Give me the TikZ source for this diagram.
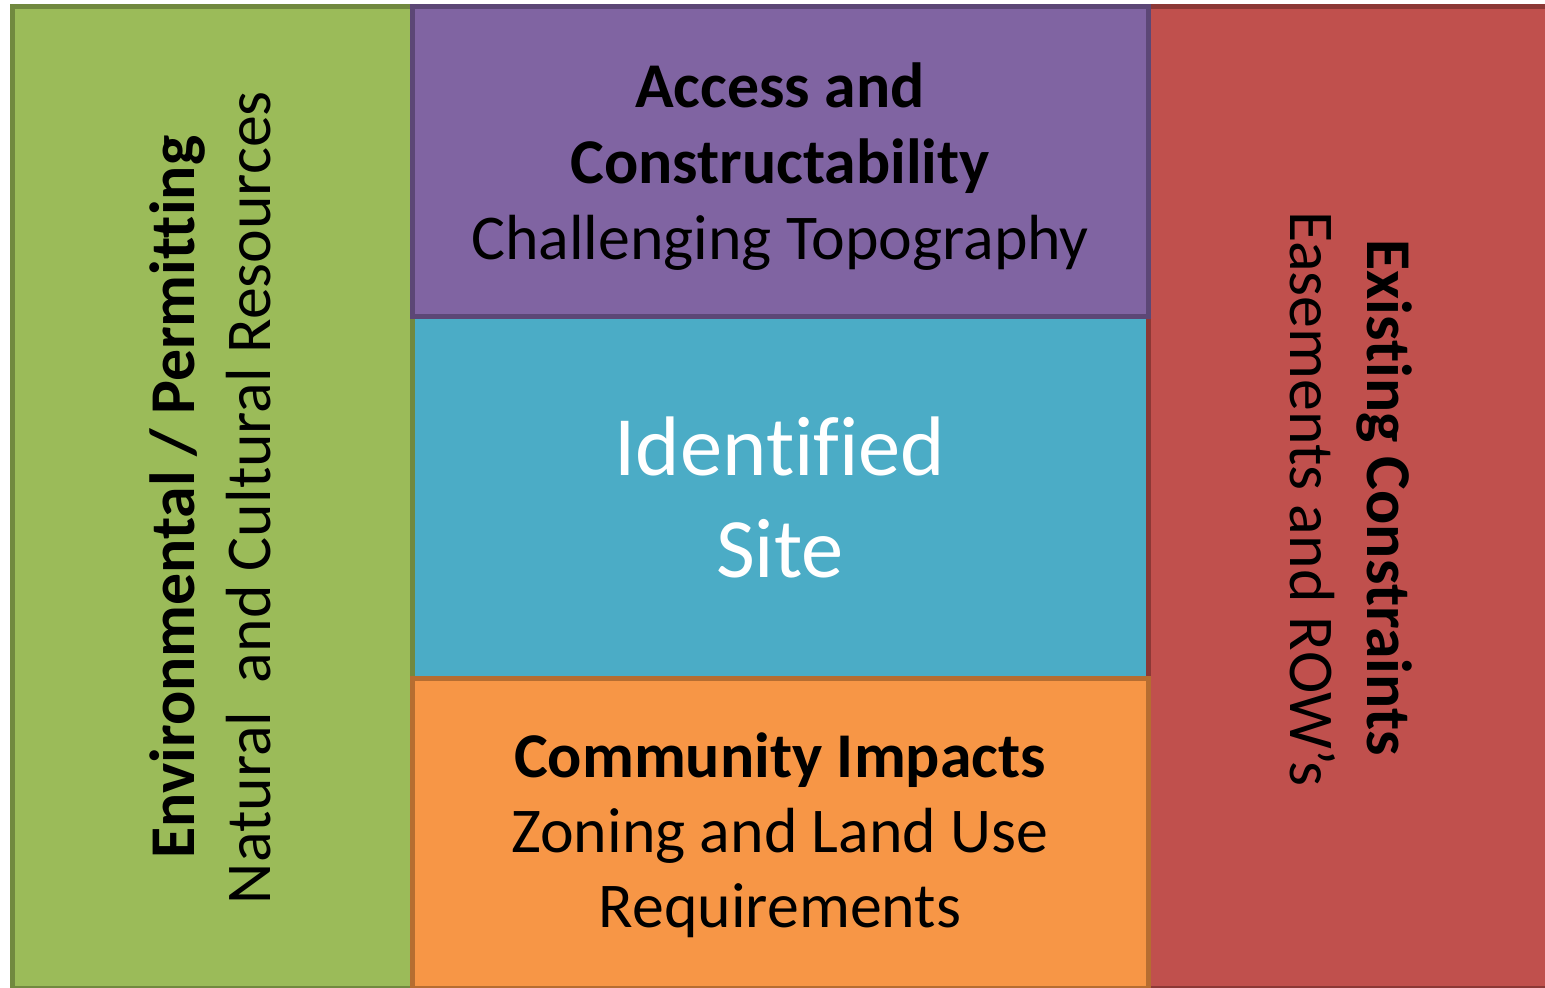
\documentclass[tikz,border=0pt]{standalone}
\usepackage{fontspec}
\setmainfont[Ligatures=NoCommon]{Carlito}
\definecolor{greenF}{HTML}{9BBB59}\definecolor{greenD}{HTML}{71893F}
\definecolor{purpleF}{HTML}{8064A2}\definecolor{purpleD}{HTML}{5C4776}
\definecolor{blueF}{HTML}{4BACC6}\definecolor{blueD}{HTML}{357D91}
\definecolor{redF}{HTML}{C0504D}\definecolor{redD}{HTML}{8C3836}
\definecolor{orangeF}{HTML}{F79646}\definecolor{orangeD}{HTML}{B66D31}
\begin{document}
\begin{tikzpicture}[x=1pt,y=-1pt,
  panel/.style={draw, line width=5pt, inner sep=0pt, outer sep=0pt},
  txt/.style={font=\fontsize{63.8}{76}\selectfont, inner sep=0pt, outer sep=0pt, anchor=base},
  big/.style={font=\fontsize{84.5}{100}\selectfont, inner sep=0pt, outer sep=0pt, anchor=base, text=white}]
\useasboundingbox (0,0) rectangle (1545,988);
\fill[white] (0,0) rectangle (1545,988);

% panels (stroke centre lines)
\node[panel, fill=blueF, draw=blueD, minimum width=736pt, minimum height=362.5pt] (site) at (780,497.25) {};
\node[panel, fill=greenF, draw=greenD, minimum width=400.5pt, minimum height=982pt] (env) at (212.25,497.5) {};
\node[panel, fill=redF, draw=redD, minimum width=402pt, minimum height=982pt] (exist) at (1349,497.5) {};
\node[panel, fill=purpleF, draw=purpleD, minimum width=736pt, minimum height=309.5pt] (access) at (780,161.25) {};
\node[panel, fill=orangeF, draw=orangeD, minimum width=736pt, minimum height=310pt] (comm) at (780,833.5) {};

% top panel text
\node[txt] (acc1) at (780,107) {\bfseries Access and};
\node[txt] (acc2) at (780,183) {\bfseries Constructability};
\node[txt] (acc3) at (780,259) {Challenging Topography};

% centre panel text
\node[big] (site1) at (780,475) {Identified};
\node[big] (site2) at (780,577) {Site};

% bottom panel text
\node[txt] (com1) at (780,777) {\bfseries Community Impacts};
\node[txt] (com2) at (780,852) {Zoning and Land Use};
\node[txt] (com3) at (780,927) {Requirements};

% left panel text
\node[txt, rotate=90] (env1) at (194,497) {\bfseries Environmental / Permitting};
\node[txt, rotate=90] (env2) at (270,497.5) {Natural\ \ and Cultural Resources};

% right panel text
\node[txt, rotate=-90] (ex1) at (1367,497.5) {\bfseries Existing Constraints};
\node[txt, rotate=-90] (ex2) at (1290,499) {Easements and ROW’s};
\end{tikzpicture}
\end{document}
